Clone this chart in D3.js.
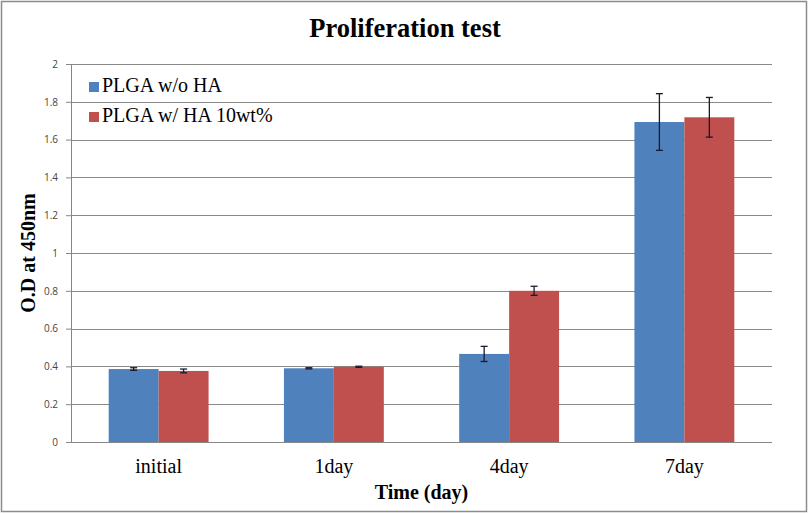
<!DOCTYPE html>
<html>
<head>
<meta charset="utf-8">
<script src="https://cdn.jsdelivr.net/npm/d3@7"></script>
<style>
  body { margin: 0; background: #fff; }
  svg { display: block; }
</style>
</head>
<body>
<div id="chart"></div>
<script>
// data
var categories = ["initial", "1day", "4day", "7day"];
var seriesNames = ["PLGA w/o HA", "PLGA w/ HA 10wt%"];
var plgaNoHA = [0.386, 0.390, 0.466, 1.693];
var plgaNoHAErr = [0.007, 0.003, 0.040, 0.150];
var plgaHA = [0.376, 0.398, 0.800, 1.718];
var plgaHAErr = [0.010, 0.003, 0.024, 0.105];
var yTicks = [0, 0.2, 0.4, 0.6, 0.8, 1, 1.2, 1.4, 1.6, 1.8, 2];

var colors = ["#4F81BD", "#C0504D"];
var serif = "'Liberation Serif', 'Times New Roman', serif";

var svgWidth = 809;
var svgHeight = 514;
var margin = { top: 64, right: 37, bottom: 72, left: 71 };
var width = svgWidth - margin.left - margin.right;
var height = svgHeight - margin.top - margin.bottom;

var svg = d3.select("#chart")
  .append("svg")
  .attr("width", svgWidth)
  .attr("height", svgHeight);

// outer chart frame
svg.append("rect")
  .attr("x", 1.5).attr("y", 1.5)
  .attr("width", 805).attr("height", 510)
  .attr("fill", "#fff")
  .attr("stroke", "#8c8c8c")
  .attr("stroke-width", 1.5);

var chartGroup = svg.append("g")
  .attr("transform", `translate(${margin.left}, ${margin.top})`);

var xScale = d3.scaleBand()
  .domain(categories)
  .range([0, width])
  .paddingInner(0.43)
  .paddingOuter(0.215);

var xSub = d3.scaleBand()
  .domain([0, 1])
  .range([0, xScale.bandwidth()]);

var yScale = d3.scaleLinear()
  .domain([0, 2])
  .range([height, 0]);

// gridlines
chartGroup.append("g")
  .selectAll("line")
  .data(yTicks.filter(d => d > 0))
  .join("line")
  .attr("x1", 0)
  .attr("x2", width)
  .attr("y1", d => Math.round(yScale(d)) + 0.5)
  .attr("y2", d => Math.round(yScale(d)) + 0.5)
  .attr("stroke", "#8a8a8a")
  .attr("stroke-width", 1);

// y axis
var leftAxis = d3.axisLeft(yScale)
  .tickValues(yTicks)
  .tickSize(5)
  .tickPadding(8)
  .tickFormat(d => d3.format("~g")(d));

var yAxis = chartGroup.append("g").call(leftAxis);
yAxis.select(".domain").attr("stroke", "#868686");
yAxis.selectAll(".tick line").attr("stroke", "#868686");
yAxis.selectAll("text")
  .attr("font-family", "'Open Sans', 'Liberation Sans', sans-serif")
  .attr("font-size", 10)
  .attr("fill", "#444");

// bars
var series = [
  { name: seriesNames[0], values: plgaNoHA, errs: plgaNoHAErr },
  { name: seriesNames[1], values: plgaHA, errs: plgaHAErr }
];

series.forEach(function(s, si) {
  var g = chartGroup.append("g");
  g.selectAll("rect")
    .data(categories)
    .join("rect")
    .attr("x", d => xScale(d) + xSub(si))
    .attr("y", (d, i) => yScale(s.values[i]))
    .attr("width", xSub.bandwidth())
    .attr("height", (d, i) => height - yScale(s.values[i]))
    .attr("fill", colors[si]);
});

// error bars
series.forEach(function(s, si) {
  var g = chartGroup.append("g")
    .attr("stroke", "#1a1a2e")
    .attr("stroke-width", 1.3);
  categories.forEach(function(c, i) {
    var cx = xScale(c) + xSub(si) + xSub.bandwidth() / 2;
    var top = yScale(s.values[i] + s.errs[i]);
    var bot = yScale(s.values[i] - s.errs[i]);
    g.append("line").attr("x1", cx).attr("x2", cx).attr("y1", top).attr("y2", bot);
    g.append("line").attr("x1", cx - 3.5).attr("x2", cx + 3.5).attr("y1", top).attr("y2", top);
    g.append("line").attr("x1", cx - 3.5).attr("x2", cx + 3.5).attr("y1", bot).attr("y2", bot);
  });
});

// x axis line
chartGroup.append("line")
  .attr("x1", 0).attr("x2", width)
  .attr("y1", height + 0.5).attr("y2", height + 0.5)
  .attr("stroke", "#868686");

// category labels
chartGroup.append("g")
  .selectAll("text")
  .data(categories)
  .join("text")
  .attr("x", d => xScale(d) + xScale.bandwidth() / 2)
  .attr("y", height + 31)
  .attr("text-anchor", "middle")
  .attr("font-family", serif)
  .attr("font-size", 20)
  .attr("fill", "#000")
  .text(d => d);

// title
svg.append("text")
  .attr("x", 405)
  .attr("y", 37)
  .attr("text-anchor", "middle")
  .attr("font-family", serif)
  .attr("font-weight", "bold")
  .attr("font-size", 26.5)
  .text("Proliferation test");

// axis titles
svg.append("text")
  .attr("x", margin.left + width / 2)
  .attr("y", 499)
  .attr("text-anchor", "middle")
  .attr("font-family", serif)
  .attr("font-weight", "bold")
  .attr("font-size", 20)
  .text("Time (day)");

svg.append("text")
  .attr("transform", `translate(35, ${margin.top + height / 2}) rotate(-90)`)
  .attr("text-anchor", "middle")
  .attr("font-family", serif)
  .attr("font-weight", "bold")
  .attr("font-size", 20)
  .text("O.D at 450nm");

// legend
var legend = svg.append("g")
  .attr("transform", "translate(89, 82)");

seriesNames.forEach(function(name, i) {
  var row = legend.append("g").attr("transform", `translate(0, ${i * 30})`);
  row.append("rect")
    .attr("x", 0).attr("y", 0)
    .attr("width", 10).attr("height", 10)
    .attr("fill", colors[i]);
  row.append("text")
    .attr("x", 13)
    .attr("y", 10)
    .attr("font-family", serif)
    .attr("font-size", 20)
    .text(name);
});
</script>
</body>
</html>
